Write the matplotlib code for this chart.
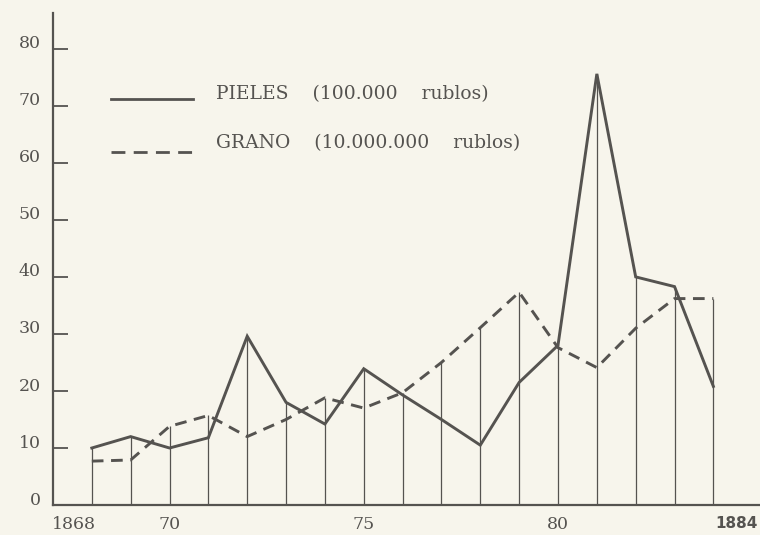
import matplotlib.pyplot as plt
from matplotlib.transforms import ScaledTranslation

years = list(range(1868, 1885))
pieles = [10, 12, 10, 11.8, 29.6, 18, 14.2, 23.9, 19.3, 15, 10.5, 21.5, 28, 75.6, 40, 38.3, 20.8]
grano = [7.7, 7.9, 13.8, 15.7, 12, 15, 18.8, 17, 19.7, 25, 31.1, 37.3, 27.6, 24.1, 31, 36.2, 36.2]
yticks = list(range(0, 90, 10))
year_labels = [(1867.55, '1868'), (1870, '70'), (1875, '75'), (1880, '80'), (1884.6, '1884')]

ink = '#555350'
paper = '#f7f5ec'

plt.rcParams['font.family'] = ['DejaVu Serif']

fig = plt.figure(figsize=(7.6, 5.35), dpi=100, facecolor=paper)
ax = fig.add_axes([0.0697, 0.056, 0.9303, 0.92])
ax.set_facecolor(paper)

# vertical rules from the base up to the higher of the two series
tops = [max(a, b) for a, b in zip(pieles, grano)]
ax.vlines(years, 0, tops, color=ink, lw=0.9)

ax.plot(years, pieles, color=ink, lw=2.1, solid_joinstyle='miter')
ax.plot(years, grano, color=ink, lw=2.1, dashes=(4, 2.6))

ax.set_xlim(1867.0, 1885.2)
ax.set_ylim(0, 86.3)

for s in ['top', 'right']:
    ax.spines[s].set_visible(False)
for s in ['left', 'bottom']:
    ax.spines[s].set_color(ink)
    ax.spines[s].set_linewidth(1.6)

ax.set_yticks(yticks)
ax.set_yticklabels([str(t) for t in yticks])
ax.tick_params(axis='y', direction='in', length=11, width=1.3, color=ink,
               labelcolor=ink, labelsize=12.5, pad=9)
for lab in ax.get_yticklabels():
    lab.set_transform(lab.get_transform() + ScaledTranslation(0, 5 / 72, fig.dpi_scale_trans))
ax.set_xticks([])

for x, t in year_labels:
    bold = t == '1884'
    ax.text(x, -2.0, t, ha='center', va='top', fontsize=11 if bold else 12.5,
            color=ink, family=['DejaVu Sans'] if bold else None,
            fontweight='bold' if bold else 'normal', clip_on=False)

# legend drawn by hand like the original
ax.plot([1868.5, 1870.6], [71.2, 71.2], color=ink, lw=2.0)
ax.plot([1868.5, 1870.6], [61.9, 61.9], color=ink, lw=2.0, dashes=(5, 3))
ax.text(1871.2, 72.0, 'PIELES    (100.000    rublos)', fontsize=13.5, color=ink, va='center')
ax.text(1871.2, 63.5, 'GRANO    (10.000.000    rublos)', fontsize=13.5, color=ink, va='center')

fig.savefig('out.png', dpi=100, facecolor=paper)
